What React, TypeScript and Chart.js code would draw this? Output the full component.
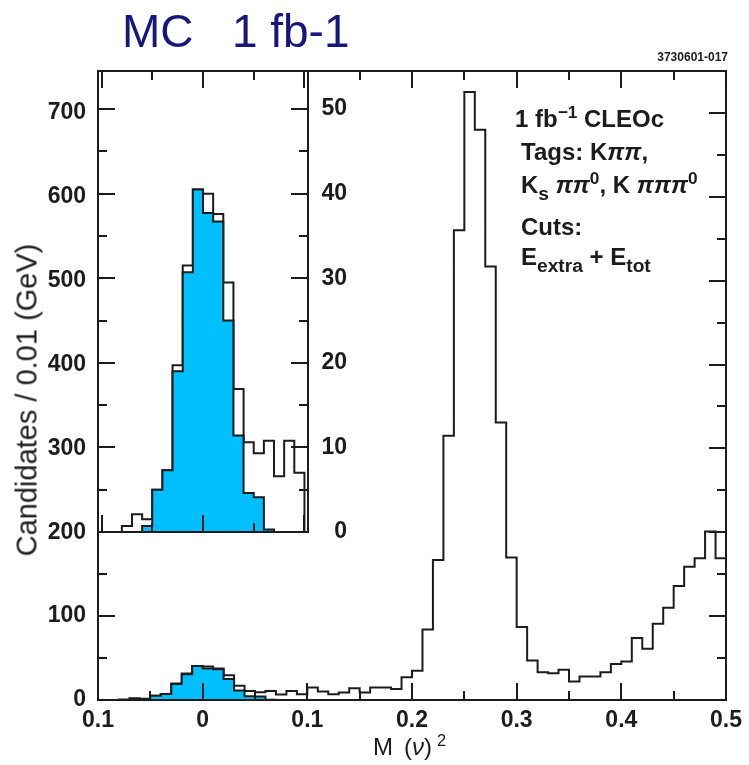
import React, { useEffect, useRef } from 'react';
import { Chart, registerables } from 'chart.js';

Chart.register(...registerables);

// ---------- data ----------
const BIN_WIDTH = 0.01;
const MAIN_BIN_START = -0.1;
// all candidates, bins of 0.01 from -0.10 to 0.50
const allCandidates = [
  0, 0, 0.7, 2.1, 1.5, 5.0, 7.3, 19.7, 31.5, 40.5,
  40.0, 37.6, 29.5, 16.9, 10.6, 9.3, 10.8, 6.6, 10.8, 7.0,
  15, 10, 7, 9, 14, 9, 15, 15, 13, 27,
  35, 84, 167, 315, 560, 725, 680, 517, 331, 170,
  87, 47, 33, 32, 36, 22, 28, 28, 33, 43,
  46, 74, 61, 91, 110, 136, 159, 169, 201, 169,
];
// tagged signal (shaded), bins of 0.01 from -0.06
const SIGNAL_BIN_START = -0.06;
const taggedSignal = [0.7, 5.0, 7.3, 19.0, 30.7, 40.5, 37.7, 36.7, 25.0, 11.4, 4.6, 4.1, 0.3];
// inset shows the bins from -0.08 to 0.09
const INSET_BIN_START = -0.08;
const INSET_FIRST_INDEX = 2;
const INSET_BIN_COUNT = 18;

// ticks
const X_TICKS = [-0.1, 0, 0.1, 0.2, 0.3, 0.4, 0.5];
const X_TICK_LABELS = ['0.1', '0', '0.1', '0.2', '0.3', '0.4', '0.5'];
const X_MINOR = [-0.05, 0.05, 0.15, 0.25, 0.35, 0.45];
const Y_TICKS = [0, 100, 200, 300, 400, 500, 600, 700];
const Y_MINOR = [50, 150, 250, 350, 450, 550, 650];
const INSET_X_TICKS = [-0.1, 0, 0.1];
const INSET_X_MINOR = [-0.05, 0.05];
const INSET_Y_TICKS = [0, 10, 20, 30, 40, 50];
const INSET_Y_MINOR = [5, 15, 25, 35, 45];

// ---------- styles ----------
const INK = '#1c1c1c';
const FILL = '#00bfff';
const NAVY = '#16167c';
const FONT = '"Liberation Sans", Arial, Helvetica, sans-serif';

type Pt = { x: number; y: number };

function histPoints(lo: number, values: number[]): Pt[] {
  const pts: Pt[] = [{ x: lo, y: 0 }];
  values.forEach((v, i) => pts.push({ x: lo + i * BIN_WIDTH, y: v }));
  const hi = lo + values.length * BIN_WIDTH;
  pts.push({ x: hi, y: values[values.length - 1] });
  pts.push({ x: hi, y: 0 });
  return pts;
}

function frameTicks(
  id: string,
  xMajor: number[],
  xMinor: number[],
  yMajor: number[],
  yMinor: number[],
  whiteBg: boolean
) {
  const MAJ = 17;
  const MIN = 9;
  return {
    id,
    beforeDatasetsDraw(chart: any) {
      if (!whiteBg) return;
      const { ctx, chartArea: a } = chart;
      ctx.save();
      ctx.fillStyle = '#ffffff';
      ctx.fillRect(a.left, a.top, a.right - a.left, a.bottom - a.top);
      ctx.restore();
    },
    afterDatasetsDraw(chart: any) {
      const { ctx, chartArea: a } = chart;
      const xs = chart.scales.x;
      const ys = chart.scales.y;
      ctx.save();
      ctx.strokeStyle = INK;
      ctx.lineWidth = 2;
      ctx.beginPath();
      const vt = (vals: number[], len: number) =>
        vals.forEach((v) => {
          const px = Math.round(xs.getPixelForValue(v));
          ctx.moveTo(px, a.bottom);
          ctx.lineTo(px, a.bottom - len);
          ctx.moveTo(px, a.top);
          ctx.lineTo(px, a.top + len);
        });
      const ht = (vals: number[], len: number) =>
        vals.forEach((v) => {
          const py = Math.round(ys.getPixelForValue(v));
          ctx.moveTo(a.left, py);
          ctx.lineTo(a.left + len, py);
          ctx.moveTo(a.right, py);
          ctx.lineTo(a.right - len, py);
        });
      vt(xMajor, MAJ);
      vt(xMinor, MIN);
      ht(yMajor, MAJ);
      ht(yMinor, MIN);
      ctx.stroke();
      ctx.strokeRect(a.left, a.top, a.right - a.left, a.bottom - a.top);
      ctx.restore();
    },
  };
}

const tickFont = { family: FONT, size: 23, weight: 'bold' as const };

function histDataset(points: Pt[], filled: boolean) {
  return {
    data: points,
    stepped: 'before',
    borderColor: INK,
    borderWidth: 2,
    backgroundColor: filled ? FILL : 'transparent',
    fill: filled ? 'origin' : false,
    pointRadius: 0,
  };
}

const INSET_CANVAS_W = 347;
const INSET_CANVAS_H = 560;

export default function App() {
  const mainRef = useRef<HTMLCanvasElement>(null);
  const insetRef = useRef<HTMLCanvasElement>(null);

  useEffect(() => {
    if (!mainRef.current || !insetRef.current) return;

    const main = new Chart(mainRef.current, {
      type: 'line',
      data: {
        datasets: [
          histDataset(histPoints(SIGNAL_BIN_START, taggedSignal), true),
          histDataset(histPoints(MAIN_BIN_START, allCandidates), false),
        ],
      },
      options: {
        responsive: false,
        animation: false,
        layout: { padding: { left: 0, top: 71, right: 17, bottom: 0 } },
        plugins: { legend: { display: false }, tooltip: { enabled: false } },
        scales: {
          x: {
            type: 'linear',
            min: -0.1,
            max: 0.5,
            afterBuildTicks: (s: any) => {
              s.ticks = X_TICKS.map((v) => ({ value: v }));
            },
            afterFit: (s: any) => {
              s.height = 65;
            },
            ticks: {
              callback: (_v: any, i: number) => X_TICK_LABELS[i],
              font: tickFont,
              color: INK,
              padding: 7,
              maxRotation: 0,
              autoSkip: false,
            },
            grid: { display: false, drawTicks: false },
            border: { display: false },
          },
          y: {
            type: 'linear',
            min: 0,
            max: 750,
            afterBuildTicks: (s: any) => {
              s.ticks = Y_TICKS.map((v) => ({ value: v }));
            },
            afterFit: (s: any) => {
              s.width = 98;
            },
            ticks: { font: tickFont, color: INK, padding: 12 },
            grid: { display: false, drawTicks: false },
            border: { display: false },
          },
        },
      },
      plugins: [frameTicks('mainFrame', X_TICKS, X_MINOR, Y_TICKS, Y_MINOR, false)],
    } as any);

    const insetValues = allCandidates.slice(INSET_FIRST_INDEX, INSET_FIRST_INDEX + INSET_BIN_COUNT);
    const inset = new Chart(insetRef.current, {
      type: 'line',
      data: {
        datasets: [
          histDataset(histPoints(SIGNAL_BIN_START, taggedSignal), true),
          histDataset(histPoints(INSET_BIN_START, insetValues), false),
        ],
      },
      options: {
        responsive: false,
        animation: false,
        layout: { padding: { left: 98, top: 71, right: 0, bottom: 28 } },
        plugins: { legend: { display: false }, tooltip: { enabled: false } },
        scales: {
          x: { type: 'linear', display: false, min: -0.1035, max: 0.1035 },
          y: {
            type: 'linear',
            position: 'right',
            min: 0,
            max: 54.5,
            afterBuildTicks: (s: any) => {
              s.ticks = INSET_Y_TICKS.map((v) => ({ value: v }));
            },
            afterFit: (s: any) => {
              s.width = INSET_CANVAS_W - 308;
            },
            ticks: { font: tickFont, color: INK, padding: 14, crossAlign: 'far' },
            grid: { display: false, drawTicks: false },
            border: { display: false },
          },
        },
      },
      plugins: [
        frameTicks('insetFrame', INSET_X_TICKS, INSET_X_MINOR, INSET_Y_TICKS, INSET_Y_MINOR, true),
      ],
    } as any);

    return () => {
      main.destroy();
      inset.destroy();
    };
  }, []);

  const abs: React.CSSProperties = { position: 'absolute', whiteSpace: 'pre', lineHeight: 1, fontFamily: FONT };
  const txt: React.CSSProperties = { ...abs, fontSize: 24, fontWeight: 'bold', color: INK };
  const sup: React.CSSProperties = { fontSize: '0.72em', position: 'relative', top: '-0.5em' };
  const sub: React.CSSProperties = { fontSize: '0.8em', position: 'relative', top: '0.35em' };
  const pi: React.CSSProperties = { fontStyle: 'italic' };

  return (
    <div
      style={{
        position: 'absolute',
        left: 0,
        top: 0,
        width: 749,
        height: 765,
        background: '#ffffff',
        overflow: 'hidden',
      }}
    >
      <canvas ref={mainRef} width={749} height={765} style={{ position: 'absolute', left: 0, top: 0 }} />
      <canvas
        ref={insetRef}
        width={INSET_CANVAS_W}
        height={INSET_CANVAS_H}
        style={{ position: 'absolute', left: 0, top: 0 }}
      />

      <div style={{ ...abs, left: 122, top: 8, fontSize: 46, color: NAVY }}>{'MC   1 fb-1'}</div>
      <div style={{ ...abs, right: 21, top: 51, fontSize: 12, fontWeight: 'bold', color: INK }}>3730601-017</div>

      <div
        style={{
          ...abs,
          left: 27,
          top: 400,
          fontSize: 29,
          color: INK,
          transform: 'translate(-50%, -50%) rotate(-90deg)',
        }}
      >
        Candidates / 0.01 (GeV)
      </div>

      <div style={{ ...abs, left: 373, top: 755 - 20, fontSize: 24, color: INK }}>
        M<span style={{ marginLeft: 11 }}>(</span>
        <span style={pi}>{'\u03bd'}</span>)
        <span style={{ fontSize: '0.68em', position: 'relative', top: '-0.55em', marginLeft: 5 }}>2</span>
      </div>

      <div style={{ ...txt, left: 515, top: 107 }}>
        1 fb<span style={sup}>{'\u22121'}</span> CLEOc
      </div>
      <div style={{ ...txt, left: 521, top: 140 }}>
        Tags: K<span style={pi}>{'\u03c0\u03c0'}</span>,
      </div>
      <div style={{ ...txt, left: 521, top: 173 }}>
        K<span style={sub}>s</span> <span style={pi}>{'\u03c0\u03c0'}</span>
        <span style={sup}>0</span>, K <span style={pi}>{'\u03c0\u03c0\u03c0'}</span>
        <span style={sup}>0</span>
      </div>
      <div style={{ ...txt, left: 521, top: 215 }}>Cuts:</div>
      <div style={{ ...txt, left: 521, top: 245 }}>
        E<span style={sub}>extra</span> + E<span style={sub}>tot</span>
      </div>
    </div>
  );
}
